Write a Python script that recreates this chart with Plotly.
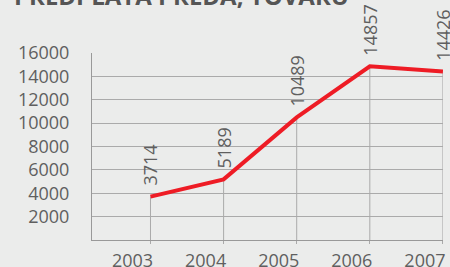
import plotly.graph_objects as go

years = [2003, 2004, 2005, 2006, 2007]
values = [3714, 5189, 10489, 14857, 14426]
y_ticks = [2000, 4000, 6000, 8000, 10000, 12000, 14000, 16000]
title_text = "PREDPLATA PREDA, TOVARU"

BG = "#ebeceb"
GRID = "#aaaaaa"
TXT = "#5f5f5f"
FONT = "Open Sans"
FS = 18

fig = go.Figure()
fig.add_trace(go.Scatter(
    x=years, y=values, mode="lines",
    line=dict(color="#ee1c25", width=4),
    error_y=dict(type="data", symmetric=False, array=[0]*len(values),
                 arrayminus=values, color=GRID, thickness=1, width=0),
    hoverinfo="skip", showlegend=False, cliponaxis=False,
))

for x, v in zip(years, values):
    fig.add_annotation(x=x, y=v, text=str(v), textangle=-90, showarrow=False,
                       xanchor="center", yanchor="bottom", yshift=9,
                       font=dict(family=FONT, size=FS, color=TXT))

fig.add_annotation(xref="paper", yref="paper", x=-92/351, y=(240-14)/187,
                   text="<b>" + title_text + "</b>", showarrow=False,
                   xanchor="left", yanchor="bottom", xshift=12,
                   font=dict(family=FONT, size=24, color="#555555"))

fig.update_layout(
    width=450, height=267,
    margin=dict(l=92, r=7, t=53, b=27, autoexpand=False),
    paper_bgcolor=BG, plot_bgcolor=BG,
    xaxis=dict(range=[2002.2, 2007.001], tickvals=years,
               ticktext=[str(y) for y in years], showgrid=False,
               showline=True, linecolor="#999999", linewidth=1,
               ticks="outside", ticklen=3, tickcolor=GRID,
               tickfont=dict(family=FONT, size=FS, color=TXT),
               ticklabeloverflow="allow", ticklabelshift=-18,
               ticklabelstandoff=1,
               zeroline=False, fixedrange=True, automargin=False),
    yaxis=dict(range=[0, 16000], tickvals=y_ticks,
               ticktext=[str(t) for t in y_ticks], showgrid=True,
               gridcolor=GRID, gridwidth=1, showline=True,
               linecolor="#999999", linewidth=1, zeroline=False,
               ticks="", tickfont=dict(family=FONT, size=FS, color=TXT),
               ticklabelstandoff=18, fixedrange=True, automargin=False),
)

fig.write_html("out.html",
               config={"displayModeBar": False, "staticPlot": True},
               post_script="document.body.style.margin='0';"
                           "document.body.style.overflow='hidden';"
                           "document.body.style.background='" + BG + "';")
